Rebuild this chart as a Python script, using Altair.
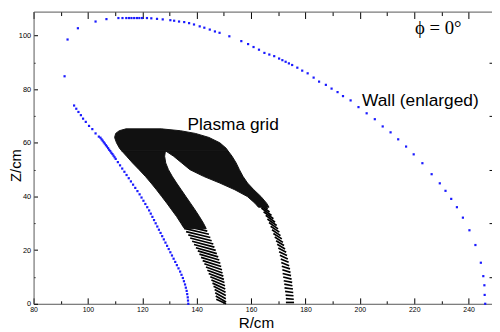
import altair as alt
import pandas as pd

W, H = 466, 297

# ---------------- data ----------------
wall_r = [136.9, 136.8, 136.7, 136.5, 136.3, 136.0, 135.7, 135.3, 134.9, 134.4,
          133.9, 133.3, 132.7, 132.1, 131.5, 130.9, 130.3, 129.7, 129.1, 128.5,
          127.9, 127.3, 126.7, 126.1, 125.5, 124.9, 124.3, 123.7, 123.1, 122.5,
          121.8, 121.1, 120.4, 119.7, 119.0, 118.2, 117.4, 116.6, 115.8, 115.0,
          114.2, 113.4, 112.6, 111.8, 111.0, 110.2,
          109.8, 109.4, 109.0, 108.6, 108.2, 107.8, 107.4, 107.0, 106.6, 106.2,
          105.8, 105.4, 105.0, 104.6,
          104.0, 102.8, 101.6, 100.4, 99.2, 98.2, 97.4, 96.5, 95.7, 94.9,
          91.4, 92.5, 96.3, 102.8, 106.8,
          111.2, 112.7, 114.1, 115.1, 116.0, 117.0, 118.0, 118.9, 119.9,
          121.7, 123.3, 125.4, 127.5, 130.3, 131.7, 133.5, 135.4, 137.2, 139.0,
          141.1, 142.8, 144.8, 146.7, 148.4, 152.0, 156.4,
          158.9, 160.9, 162.9, 164.9, 166.7, 168.5, 170.3, 171.5, 172.7, 173.9,
          175.1, 177.0, 178.8, 180.8, 183.0, 185.0, 187.5, 189.6, 191.8, 193.8,
          196.6, 199.5, 202.5, 205.5, 208.4, 211.3, 214.1, 217.0, 219.8, 223.0,
          226.4, 229.4, 231.5, 233.6, 235.7, 237.9, 240.3, 242.5, 244.5, 245.4,
          245.8, 245.9, 246.1]
wall_z = [0.0, 1.2, 2.4, 3.6, 4.8, 6.0, 7.2, 8.4, 9.6, 10.8,
          12.0, 13.2, 14.4, 15.6, 16.8, 18.0, 19.2, 20.4, 21.6, 22.8,
          24.0, 25.2, 26.4, 27.6, 28.8, 30.0, 31.2, 32.4, 33.6, 34.8,
          36.0, 37.2, 38.4, 39.6, 40.8, 42.0, 43.2, 44.4, 45.6, 46.8,
          48.0, 49.2, 50.4, 51.6, 52.8, 54.0,
          54.6, 55.2, 55.8, 56.3, 56.9, 57.4, 58.0, 58.6, 59.1, 59.7,
          60.2, 60.8, 61.3, 61.9,
          62.3, 63.5, 65.1, 66.3, 67.8, 69.0, 70.3, 71.5, 72.7, 73.9,
          84.8, 98.5, 102.7, 105.2, 106.1,
          106.5, 106.5, 106.5, 106.5, 106.5, 106.5, 106.5, 106.5, 106.5,
          106.5, 106.4, 106.2, 106.0, 105.7, 105.5, 105.2, 105.0, 104.6, 104.1,
          103.4, 102.9, 102.2, 101.5, 101.0, 99.7, 97.9,
          96.8, 95.7, 94.7, 93.5, 92.9, 92.3, 91.4, 90.8, 90.2, 89.6,
          89.0, 88.0, 86.9, 85.9, 84.3, 82.8, 81.6, 80.2, 78.9, 77.4,
          75.8, 73.3, 71.0, 68.8, 66.1, 63.9, 61.3, 58.6, 55.7, 52.4,
          48.3, 44.9, 42.1, 39.1, 36.0, 32.1, 27.4, 21.9, 15.3, 10.3,
          6.9, 3.3, 0.0]

# plasma grid, dense (solid-looking) part: left R / right R for each Z, three pieces
blk_part = (["left leg"] * 13) + (["top"] * 7) + (["right leg"] * 10)
blk_z = [28.0, 30.0, 32.5, 35.0, 37.5, 40.0, 42.5, 45.0, 47.5, 50.0, 52.5, 55.0, 57.0,
         57.0, 58.0, 60.0, 62.0, 63.5, 64.5, 65.2,
         57.0, 55.0, 52.5, 50.0, 47.5, 45.0, 42.5, 40.0, 37.5, 36.0]
blk_r1 = [135.5, 134.2, 132.6, 130.8, 129.0, 127.1, 125.2, 123.2, 121.1, 118.8, 116.4, 114.2, 112.4,
          112.4, 111.6, 110.5, 109.8, 110.2, 111.5, 114.0,
          128.5, 131.5, 134.5, 137.5, 142.5, 148.5, 154.0, 158.6, 161.4, 162.7]
blk_r2 = [143.5, 142.5, 141.0, 139.4, 137.7, 136.0, 134.3, 132.6, 131.0, 129.6, 128.6, 128.2, 128.5,
          151.5, 150.8, 148.5, 144.5, 139.5, 134.0, 127.0,
          151.5, 153.0, 154.5, 155.7, 157.0, 158.7, 161.0, 163.6, 165.7, 166.6]

# plasma grid ribs (single cells) : end A (r, z) -> end B (r, z)
# left leg: A = outer (left) end, B = inner (right) end
# right leg: A = inner (left) end, B = outer (right) end
rib_a_r = [147.2, 147.0, 146.8, 146.6, 146.2, 145.8, 145.4, 145.0, 144.4, 143.9,
           143.4, 142.8, 142.2, 141.6, 141.0, 140.4, 139.7, 139.0, 138.3, 137.6,
           136.9, 136.1, 135.4, 134.6, 133.9,
           172.8, 172.8, 172.7, 172.5, 172.3, 172.2, 172.0, 171.8, 171.6, 171.5,
           171.3, 171.1, 170.9, 170.6, 170.3, 170.0, 169.6, 169.2, 168.7, 168.2,
           167.7, 167.2, 166.6, 166.0, 165.4, 164.6, 163.8, 162.9, 162.0]
rib_a_z = [1.7, 2.9, 4.1, 5.3, 6.5, 7.7, 8.9, 10.1, 11.3, 12.5,
           13.7, 14.9, 16.1, 17.3, 18.5, 19.7, 20.9, 22.1, 23.3, 24.5,
           25.7, 26.9, 28.1, 29.3, 30.5,
           0.5, 1.9, 3.2, 4.6, 5.9, 7.3, 8.6, 10.0, 11.3, 12.7,
           14.0, 15.4, 16.7, 18.1, 19.4, 20.8, 22.2, 23.5, 24.9, 26.2,
           27.6, 28.9, 30.3, 31.6, 33.0, 34.3, 35.7, 37.0, 38.4]
rib_b_r = [150.8, 150.8, 150.7, 150.7, 150.6, 150.5, 150.4, 150.2, 150.0, 149.8,
           149.5, 149.3, 149.0, 148.7, 148.3, 147.9, 147.4, 147.0, 146.5, 146.1,
           145.5, 145.0, 144.5, 143.9, 143.3,
           175.8, 175.7, 175.6, 175.5, 175.4, 175.2, 175.1, 174.9, 174.7, 174.5,
           174.3, 174.0, 173.8, 173.5, 173.2, 172.9, 172.5, 172.1, 171.7, 171.3,
           170.8, 170.4, 169.9, 169.4, 168.8, 168.2, 167.5, 166.8, 166.1]
rib_b_z = [0.0, 0.7, 1.9, 3.1, 4.3, 5.5, 6.7, 7.9, 9.1, 10.3,
           11.5, 12.7, 13.9, 15.1, 16.3, 17.5, 18.7, 19.9, 21.1, 22.3,
           23.5, 24.7, 25.9, 27.1, 28.3,
           0.5, 1.7, 3.0, 4.2, 5.5, 6.7, 8.0, 9.2, 10.5, 11.7,
           13.0, 14.2, 15.5, 16.7, 18.0, 19.2, 20.4, 21.7, 22.9, 24.2,
           25.4, 26.7, 27.9, 29.2, 30.4, 31.7, 32.9, 34.2, 35.4]

note_text = ["Plasma grid", "Wall (enlarged)"]
note_r = [136.6, 200.8]
note_z = [64.6, 73.8]
phi_text = ["\u03d5 = 0\u00b0"]
phi_r = [220.3]
phi_z = [100.6]

x_major = [80, 100, 120, 140, 160, 180, 200, 220, 240]
x_all = list(range(80, 250, 10))
y_major = [0, 20, 40, 60, 80, 100]
y_all = list(range(0, 110, 10))
y_right = [10, 30, 50, 70, 90]

# ---------------- tables ----------------
wall = pd.DataFrame({"R": wall_r, "Z": wall_z})
blk = pd.DataFrame({"part": blk_part, "Z": blk_z, "R1": blk_r1, "R2": blk_r2})
rows = []
for i in range(len(rib_a_r)):
    rows.append({"rib": i, "end": 0, "R": rib_a_r[i], "Z": rib_a_z[i]})
    rows.append({"rib": i, "end": 1, "R": rib_b_r[i], "Z": rib_b_z[i]})
ribs = pd.DataFrame(rows)
notes = pd.DataFrame({"R": note_r, "Z": note_z, "t": note_text})
phi = pd.DataFrame({"R": phi_r, "Z": phi_z, "t": phi_text})

xs = alt.Scale(domain=[80, 248.6], nice=False, zero=False)
ys = alt.Scale(domain=[0, 108.9], nice=False, zero=False)

FONT = "Liberation Sans"

ax_x_lab = alt.Axis(orient="bottom", values=x_major, ticks=False, tickSize=0, domain=False,
                    grid=False, labelFontSize=7, labelFont=FONT, labelColor="black",
                    labelPadding=2, labelFlush=False, labelOverlap=False,
                    title="R/cm", titleFont=FONT, titleFontSize=15.5, titleFontWeight="normal",
                    titleColor="black", titleX=226, titleY=24, titleBaseline="alphabetic")
ax_y_lab = alt.Axis(orient="left", values=y_major, ticks=False, tickSize=0, domain=False,
                    grid=False, labelFontSize=7.5, labelFont=FONT, labelColor="black",
                    labelPadding=3, labelFlush=False, labelOverlap=False,
                    title="Z/cm", titleFont=FONT, titleFontSize=15, titleFontWeight="normal",
                    titleColor="black", titleX=-13, titleY=156, titleBaseline="alphabetic",
                    titleAngle=270)
ax_x_bot = alt.Axis(orient="top", offset=-H, values=x_all, labels=False, domain=True,
                    domainColor="#555555", tickColor="black", grid=False, title=None,
                    tickSize={"condition": {"test": "datum.value % 20 === 0", "value": 6}, "value": 3})
ax_y_left = alt.Axis(orient="right", offset=-W, values=y_all, labels=False, domain=True,
                     domainColor="#555555", tickColor="black", grid=False, title=None,
                     tickSize={"condition": {"test": "datum.value % 20 === 0", "value": 4}, "value": 1.5})
ax_x_top = alt.Axis(orient="bottom", offset=-H, values=x_all, labels=False, domain=True,
                    domainColor="#555555", tickColor="black", grid=False, title=None,
                    tickSize={"condition": {"test": "datum.value % 20 === 0", "value": 7}, "value": 4})
ax_y_right = alt.Axis(orient="left", offset=-W, values=y_right, labels=False, domain=False,
                      tickColor="black", grid=False, title=None, tickSize=3)

wall_layer = alt.Chart(wall).mark_square(size=5, color="#1a1aff", opacity=1).encode(
    x=alt.X("R:Q", scale=xs, axis=ax_x_lab),
    y=alt.Y("Z:Q", scale=ys, axis=ax_y_lab),
)

rib_layer = alt.Chart(ribs).mark_line(color="black", strokeWidth=1.7).encode(
    x=alt.X("R:Q", scale=xs, axis=ax_x_bot),
    y=alt.Y("Z:Q", scale=ys, axis=ax_y_left),
    detail="rib:N",
    order="end:Q",
)

note_layer = alt.Chart(notes).mark_text(font=FONT, fontSize=17.6, align="left",
                                        baseline="alphabetic", color="black").encode(
    x=alt.X("R:Q", scale=xs, axis=ax_x_top),
    y=alt.Y("Z:Q", scale=ys, axis=ax_y_right),
    text="t:N",
)

blk_layer = alt.Chart(blk).mark_area(orient="horizontal", color="#111111", opacity=1,
                                     stroke="#111111", strokeWidth=1).encode(
    y=alt.Y("Z:Q", scale=ys, axis=None),
    x=alt.X("R1:Q", scale=xs, axis=None),
    x2="R2:Q",
    detail="part:N",
)

phi_layer = alt.Chart(phi).mark_text(font="Liberation Serif", fontSize=19, align="left",
                                     baseline="alphabetic", color="black").encode(
    x=alt.X("R:Q", scale=xs, axis=None),
    y=alt.Y("Z:Q", scale=ys, axis=None),
    text="t:N",
)

chart = alt.layer(wall_layer, rib_layer, note_layer, blk_layer, phi_layer).resolve_axis(
    x="independent", y="independent"
).properties(
    width=W, height=H,
    autosize=alt.AutoSizeParams(type="none"),
    padding={"left": 26, "top": 1, "right": 0, "bottom": 25},
    background="white",
).configure_view(stroke=None)

chart.save("out.html", embed_options={"renderer": "svg", "actions": False})
